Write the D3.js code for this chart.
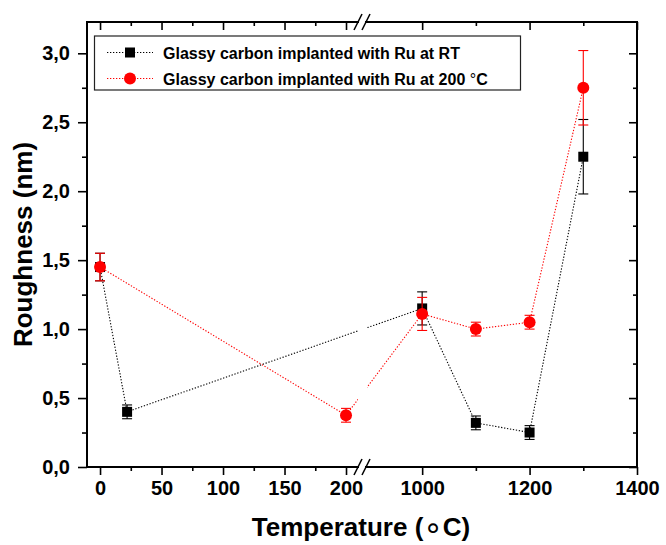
<!DOCTYPE html>
<html>
<head>
<meta charset="utf-8">
<script src="https://cdn.jsdelivr.net/npm/d3@7"></script>
<style>
  html, body { margin: 0; padding: 0; background: #fff; }
  svg { display: block; }
  text { font-family: "Liberation Sans", Arial, sans-serif; font-weight: bold; fill: #000; }
</style>
</head>
<body>
<svg id="chart" width="666" height="545"></svg>
<script>
// Roughness of Ru-implanted glassy carbon versus annealing temperature
const seriesNames = ["Glassy carbon implanted with Ru at RT", "Glassy carbon implanted with Ru at 200 "];

const tempRT   = [0, 22, 1000, 1100, 1200, 1300];
const roughRT  = [1.45, 0.40, 1.15, 0.32, 0.25, 2.25];
const errRT    = [0.10, 0.05, 0.12, 0.05, 0.05, 0.27];

const temp200  = [0, 200, 1000, 1100, 1200, 1300];
const rough200 = [1.45, 0.375, 1.11, 1.00, 1.05, 2.75];
const err200   = [0.10, 0.05, 0.12, 0.05, 0.05, 0.27];

const xMajorLow   = [0, 50, 100, 150, 200];
const xMinorLow   = [25, 75, 125, 175];
const xMajorHigh  = [1000, 1200, 1400];
const xMinorHigh  = [1100, 1300];
const yMajor      = [0, 0.5, 1.0, 1.5, 2.0, 2.5, 3.0];
const yMinor      = [0.25, 0.75, 1.25, 1.75, 2.25, 2.75];

// Plot frame
const pLeft = 87, pRight = 637, pTop = 22, pBottom = 467, breakX = 362;

const svg = d3.select("#chart");

// Broken x axis: two linear pieces meeting at the break
const xLow  = d3.scaleLinear().domain([-10.6, 213]).range([pLeft, breakX]);
const xHigh = d3.scaleLinear().domain([888, 1400]).range([breakX, pRight]);
const x = v => (v < 500 ? xLow(v) : xHigh(v));
const y = d3.scaleLinear().domain([0, 3.227]).range([pBottom, pTop]);

const commaFmt = d3.formatLocale({decimal: ",", thousands: ".", grouping: [3], currency: ["", ""]}).format(".1f");

// Line clip leaves a gap where the axis is broken
const defs = svg.append("defs");
const clip = defs.append("clipPath").attr("id", "gapClip");
clip.append("rect").attr("x", pLeft).attr("y", pTop).attr("width", 358 - pLeft).attr("height", pBottom - pTop);
clip.append("rect").attr("x", 367).attr("y", pTop).attr("width", pRight - 367).attr("height", pBottom - pTop);

function styleAxis(g) {
  g.select(".domain").remove();
  g.selectAll(".tick line").attr("stroke", "#000").attr("stroke-width", 1.6);
  g.selectAll(".tick text").style("font-size", "20px").attr("fill", "#000");
}

// Bottom axis (outward ticks with labels) and top mirror axis (inward ticks)
[[xLow, xMajorLow, xMinorLow], [xHigh, xMajorHigh, xMinorHigh]].forEach(([sc, maj, min]) => {
  svg.append("g").attr("transform", `translate(0,${pBottom})`)
    .call(d3.axisBottom(sc).tickValues(maj).tickSize(8).tickPadding(6).tickFormat(d3.format("d")))
    .call(styleAxis);
  svg.append("g").attr("transform", `translate(0,${pBottom})`)
    .call(d3.axisBottom(sc).tickValues(min).tickSize(4).tickFormat(""))
    .call(styleAxis);
  svg.append("g").attr("transform", `translate(0,${pTop})`)
    .call(d3.axisBottom(sc).tickValues(maj).tickSize(8).tickFormat(""))
    .call(styleAxis);
  svg.append("g").attr("transform", `translate(0,${pTop})`)
    .call(d3.axisBottom(sc).tickValues(min).tickSize(4).tickFormat(""))
    .call(styleAxis);
});

// Left axis (outward) and right mirror axis (inward)
svg.append("g").attr("transform", `translate(${pLeft},0)`)
  .call(d3.axisLeft(y).tickValues(yMajor).tickSize(9).tickPadding(8).tickFormat(commaFmt))
  .call(styleAxis);
svg.append("g").attr("transform", `translate(${pLeft},0)`)
  .call(d3.axisLeft(y).tickValues(yMinor).tickSize(5).tickFormat(""))
  .call(styleAxis);
svg.append("g").attr("transform", `translate(${pRight},0)`)
  .call(d3.axisLeft(y).tickValues(yMajor).tickSize(8).tickFormat(""))
  .call(styleAxis);
svg.append("g").attr("transform", `translate(${pRight},0)`)
  .call(d3.axisLeft(y).tickValues(yMinor).tickSize(4).tickFormat(""))
  .call(styleAxis);

// Frame with break marks
const frame = svg.append("g").attr("stroke", "#000").attr("stroke-width", 2).attr("fill", "none");
frame.append("line").attr("x1", pLeft).attr("x2", pLeft).attr("y1", pTop - 1).attr("y2", pBottom + 1);
frame.append("line").attr("x1", pRight).attr("x2", pRight).attr("y1", pTop - 1).attr("y2", pBottom + 1);
[pTop, pBottom].forEach(yy => {
  frame.append("line").attr("x1", pLeft).attr("x2", breakX - 3).attr("y1", yy).attr("y2", yy);
  frame.append("line").attr("x1", breakX + 3).attr("x2", pRight).attr("y1", yy).attr("y2", yy);
  [-4, 4].forEach(dx => {
    frame.append("line")
      .attr("x1", breakX + dx - 4).attr("y1", yy + 8)
      .attr("x2", breakX + dx + 4).attr("y2", yy - 8)
      .attr("stroke-width", 1.6);
  });
});

// Series
const series = [
  {name: seriesNames[0], t: tempRT, v: roughRT, e: errRT, color: "#000", shape: "square"},
  {name: seriesNames[1], t: temp200, v: rough200, e: err200, color: "#ff0000", shape: "circle"}
];

const lineGen = d3.line().x(d => x(d[0])).y(d => y(d[1]));

function drawMarker(g, shape, color, cx, cy) {
  if (shape === "square") {
    g.append("rect").attr("x", cx - 5).attr("y", cy - 5).attr("width", 10).attr("height", 10).attr("fill", color);
  } else {
    g.append("circle").attr("cx", cx).attr("cy", cy).attr("r", 6).attr("fill", color);
  }
}

series.forEach(s => {
  const pts = s.t.map((t, i) => [t, s.v[i]]);
  svg.append("path").datum(pts)
    .attr("d", lineGen)
    .attr("fill", "none")
    .attr("stroke", s.color)
    .attr("stroke-width", 1.1)
    .attr("stroke-dasharray", "1.3,1.7")
    .attr("clip-path", "url(#gapClip)");
});

series.forEach(s => {
  const g = svg.append("g");
  s.t.forEach((t, i) => {
    const cx = x(t), y1 = y(s.v[i] + s.e[i]), y0 = y(s.v[i] - s.e[i]);
    g.append("line").attr("x1", cx).attr("x2", cx).attr("y1", y1).attr("y2", y0).attr("stroke", s.color).attr("stroke-width", 1.1);
    [y1, y0].forEach(yy => g.append("line").attr("x1", cx - 5).attr("x2", cx + 5).attr("y1", yy).attr("y2", yy).attr("stroke", s.color).attr("stroke-width", 1.1));
  });
  s.t.forEach((t, i) => drawMarker(g, s.shape, s.color, x(t), y(s.v[i])));
});

// Legend
const lg = svg.append("g");
lg.append("rect").attr("x", 94.5).attr("y", 36).attr("width", 426).attr("height", 54)
  .attr("fill", "#fff").attr("stroke", "#222").attr("stroke-width", 1.2);
series.forEach((s, i) => {
  const ly = 52.5 + i * 26;
  lg.append("line").attr("x1", 107).attr("x2", 153).attr("y1", ly).attr("y2", ly)
    .attr("stroke", s.color).attr("stroke-width", 1).attr("stroke-dasharray", "1.3,1.7");
  drawMarker(lg, s.shape, s.color, 130, ly);
  const txt = lg.append("text").attr("x", 163).attr("y", ly + 6).style("font-size", "16px");
  txt.append("tspan").text(s.name);
  if (i === 1) {
    txt.append("tspan").style("font-weight", "normal").text("°");
    txt.append("tspan").text("C");
  }
});

// Axis titles
svg.append("text")
  .attr("transform", `translate(32,${(pTop + pBottom) / 2}) rotate(-90)`)
  .attr("text-anchor", "middle")
  .style("font-size", "26px")
  .text("Roughness (nm)");

const xt = svg.append("text")
  .attr("x", 361).attr("y", 536)
  .attr("text-anchor", "middle")
  .style("font-size", "26px");
xt.append("tspan").text("Temperature (");
xt.append("tspan").style("font-family", "DejaVu Sans").style("font-weight", "normal")
  .style("font-size", "31px").attr("dy", 2).text("∘");
xt.append("tspan").attr("dy", -2).text("C)");
</script>
</body>
</html>
